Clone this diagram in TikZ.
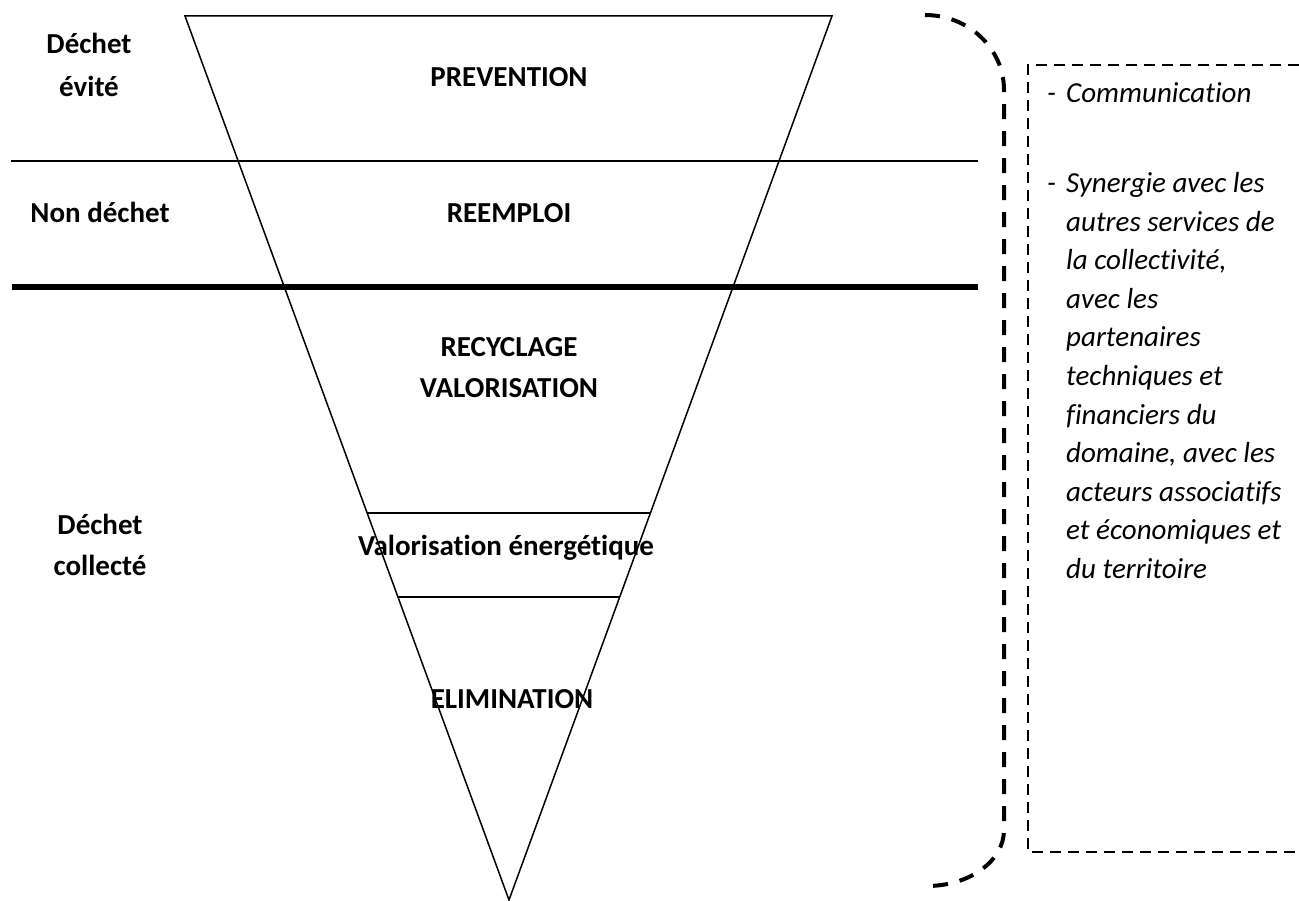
\documentclass[tikz,border=0pt]{standalone}
\usepackage{fontspec}
\setmainfont{Carlito}[Ligatures={NoCommon,NoContextual}]
\usetikzlibrary{calc}
\begin{document}
\begin{tikzpicture}[x=1pt,y=-1pt,
  lbl/.style={font=\fontsize{29}{35}\selectfont\bfseries, inner sep=0pt, anchor=base},
  itx/.style={font=\fontsize{29}{35}\selectfont\itshape, inner sep=0pt, anchor=base west},
  thinline/.style={line width=1.5pt},
  thickline/.style={line width=6.5pt},
  bracestyle/.style={line width=4pt, dash pattern=on 15pt off 12pt},
  boxstyle/.style={line width=2.5pt, dash pattern=on 11pt off 7pt, line join=miter}]
\useasboundingbox (0,0) rectangle (1299,901);
% triangle
\coordinate (tl) at (185,16);
\coordinate (tr) at (832,16);
\coordinate (ap) at (509,900);
\draw[thinline, line join=miter] (tl) -- (tr) -- (ap) -- cycle;
% horizontal separators
\coordinate (h1a) at (11,161);  \coordinate (h1b) at (978,161);
\coordinate (h2a) at (12,287);  \coordinate (h2b) at (978,287);
\draw[thinline] (h1a) -- (h1b);
\draw[thickline] (h2a) -- (h2b);
\draw[thinline] ($(tl)!0.5622!(ap)$) -- ($(tr)!0.5622!(ap)$);
\draw[thinline] ($(tl)!0.6572!(ap)$) -- ($(tr)!0.6572!(ap)$);
% brace
\coordinate (bs) at (925,15);
\coordinate (bt) at (1004,90);
\coordinate (bb) at (1004,830);
\coordinate (be) at (927,886);
\draw[bracestyle] (bs) .. controls (968.6,15) and (1004,48.6) .. (bt)
  -- (bb) .. controls (1004,861) and (969.5,886) .. (be);
% dashed box
\coordinate (ktr) at (1299,65);
\coordinate (ktl) at (1028,65);
\coordinate (kbl) at (1028,852);
\coordinate (kbr) at (1299,852);
\draw[boxstyle] (ktr) -- (ktl) -- (kbl) -- (kbr);
% labels in the funnel
\node[lbl] (prev) at (509,87) {PREVENTION};
\node[lbl] (reem) at (509,223) {REEMPLOI};
\node[lbl] (recy) at (509,356) {RECYCLAGE};
\node[lbl] (valo) at (509,397) {VALORISATION};
\node[lbl] (vale) at (506,555) {Valorisation énergétique};
\node[lbl] (elim) at (512,708) {ELIMINATION};
% left labels
\node[lbl] (de1) at (89,54) {Déchet};
\node[lbl] (de2) at (89,97) {évité};
\node[lbl] (nd) at (100,223) {Non déchet};
\node[lbl] (dc1) at (100,534) {Déchet};
\node[lbl] (dc2) at (100,575) {collecté};
% right box text
\node[itx] (dash1) at (1047,103) {-};
\node[itx] (com) at (1066,103) {Communication};
\node[itx] (dash2) at (1047,193) {-};
\foreach \t [count=\i] in {Synergie avec les, autres services de, {la collectivité,}, avec les, partenaires, techniques et, financiers du, {domaine, avec les}, acteurs associatifs, et économiques et, du territoire}
  \node[itx] (s\i) at (1066,{193+(\i-1)*38.5}) {\t};
\end{tikzpicture}
\end{document}
